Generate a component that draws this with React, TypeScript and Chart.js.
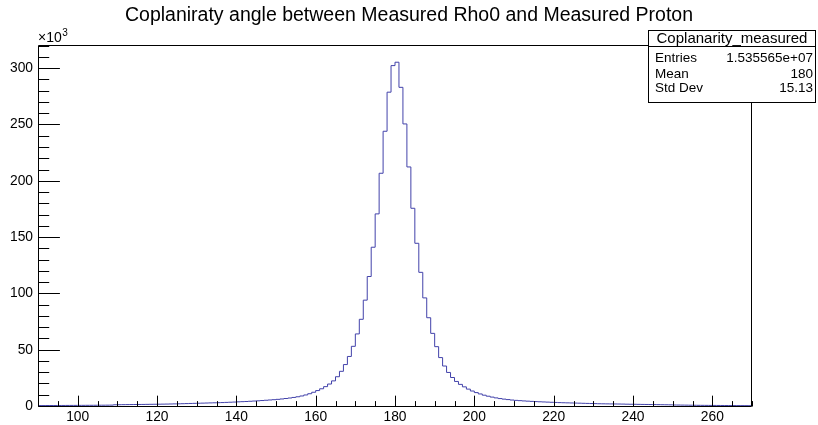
import React, { useEffect, useRef } from 'react';
import { Chart, registerables } from 'chart.js';

Chart.register(...registerables);

// ---- data (counts in units of 10^3, one bin per degree starting at 90) ----
const binStart = 90;
const binWidth = 1;
const counts: number[] = [
  0.40, 0.40, 0.42, 0.44, 0.45, 0.47, 0.48, 0.50, 0.52, 0.54,
  0.56, 0.58, 0.60, 0.62, 0.65, 0.68, 0.70, 0.74, 0.78, 1.10,
  1.15, 1.20, 1.24, 1.28, 1.32, 1.36, 1.40, 1.45, 1.50, 1.55,
  1.60, 1.66, 1.72, 1.80, 1.88, 1.96, 2.05, 2.15, 2.25, 2.35,
  2.45, 2.55, 2.65, 2.75, 2.85, 2.95, 3.05, 3.20, 3.35, 3.50,
  3.70, 3.85, 4.00, 4.20, 4.40, 4.60, 4.85, 5.10, 5.35, 5.60,
  5.90, 6.25, 6.65, 7.10, 7.60, 8.20, 8.90, 9.80, 10.90, 12.20,
  13.70, 15.30, 17.20, 19.50, 22.30, 26.00, 30.80, 36.80, 44.00, 53.00,
  64.0, 77.0, 94.0, 115.0, 141.0, 170.6, 206.7, 244.0, 278.7, 302.3,
  305.3, 283.0, 250.5, 212.3, 175.6, 144.5, 118.7, 96.0, 78.4, 64.5,
  52.7, 43.0, 35.5, 29.8, 25.3, 21.8, 19.2, 17.0, 15.0, 13.3,
  11.9, 10.7, 9.6, 8.7, 7.9, 7.2, 6.6, 6.1, 5.7, 5.3,
  5.0, 4.75, 4.5, 4.3, 4.1, 3.9, 3.75, 3.6, 3.45, 3.3,
  3.15, 3.0, 2.9, 2.8, 2.7, 2.6, 2.5, 2.4, 2.3, 2.2,
  2.1, 2.0, 1.95, 1.9, 1.85, 1.8, 1.75, 1.7, 1.6, 1.55,
  1.5, 1.45, 1.4, 1.35, 1.3, 1.25, 1.2, 1.15, 1.1, 1.05,
  0.9, 0.85, 0.8, 0.75, 0.7, 0.65, 0.6, 0.58, 0.55, 0.52,
  0.5, 0.48, 0.45, 0.42, 0.4, 0.38, 0.36, 0.34, 0.32, 0.3,
];
const xMin = 90;
const xMax = 270;
const yMax = 320.6;
const xMajorTicks = [100, 120, 140, 160, 180, 200, 220, 240, 260];
const yMajorTicks = [0, 50, 100, 150, 200, 250, 300];
const xMinorStep = 5;
const yMinorStep = 10;

const titleText = 'Coplaniraty angle between Measured Rho0 and Measured Proton';
const statsTitle = 'Coplanarity_measured';
const statsLabels = ['Entries', 'Mean', 'Std Dev'];
const statsValues = ['1.535565e+07', '180', '15.13'];

const FONT = '"Liberation Sans", Arial, Helvetica, sans-serif';
const LINE_COLOR = 'rgb(66,66,170)';

const rootDecor = {
  id: 'rootDecor',
  afterDraw(chart: any) {
    const { ctx, chartArea: a, scales } = chart;
    const xs = scales.x;
    const ys = scales.y;
    ctx.save();
    ctx.strokeStyle = '#000';
    ctx.lineWidth = 1;
    // frame
    const L = Math.round(a.left) + 0.5;
    const R = Math.round(a.right) - 0.5;
    const T = Math.round(a.top) + 0.5;
    const B = Math.round(a.bottom) + 0.5;
    ctx.beginPath();
    ctx.rect(L, T, R - L, B - T);
    ctx.stroke();

    // ticks (inside the frame)
    const frameH = a.bottom - a.top;
    const frameW = a.right - a.left;
    const xMaj = frameH * 0.03;
    const yMaj = frameW * 0.03;
    ctx.beginPath();
    for (let v = xMin; v <= xMax + 1e-9; v += xMinorStep) {
      const px = Math.round(xs.getPixelForValue(v)) + 0.5;
      const len = xMajorTicks.includes(v) ? xMaj : xMaj / 2;
      ctx.moveTo(px, B);
      ctx.lineTo(px, B - len);
    }
    for (let v = 0; v <= yMax + 1e-9; v += yMinorStep) {
      const py = Math.round(ys.getPixelForValue(v)) + 0.5;
      const len = yMajorTicks.includes(v) ? yMaj : yMaj / 2;
      ctx.moveTo(L, py);
      ctx.lineTo(L + len, py);
    }
    ctx.stroke();

    // title
    ctx.fillStyle = '#000';
    ctx.textAlign = 'center';
    ctx.textBaseline = 'middle';
    ctx.font = `19.5px ${FONT}`;
    ctx.fillText(titleText, chart.width / 2, 16);

    // x10^3
    ctx.textAlign = 'left';
    ctx.textBaseline = 'alphabetic';
    ctx.font = `14px ${FONT}`;
    ctx.fillText('\u00d710', a.left, 42);
    const w = ctx.measureText('\u00d710').width;
    ctx.font = `10px ${FONT}`;
    ctx.fillText('3', a.left + w + 0.5, 36);

    // stats box
    const bx = 648.5, by = 30.5, bw = 167, bh = 72;
    ctx.fillStyle = '#fff';
    ctx.fillRect(bx, by, bw, bh);
    ctx.strokeStyle = '#000';
    ctx.strokeRect(bx, by, bw, bh);
    ctx.beginPath();
    ctx.moveTo(bx, 46.5);
    ctx.lineTo(bx + bw, 46.5);
    ctx.stroke();
    ctx.fillStyle = '#000';
    ctx.textAlign = 'center';
    ctx.textBaseline = 'middle';
    ctx.font = `15px ${FONT}`;
    ctx.fillText(statsTitle, bx + bw / 2, 38.5);
    ctx.font = `13.5px ${FONT}`;
    const rowY = [58.5, 74, 88];
    statsLabels.forEach((lab, i) => {
      ctx.textAlign = 'left';
      ctx.fillText(lab, 655, rowY[i]);
      ctx.textAlign = 'right';
      ctx.fillText(statsValues[i], 813, rowY[i]);
    });
    ctx.restore();
  },
};

export default function App() {
  const ref = useRef<HTMLCanvasElement | null>(null);
  useEffect(() => {
    if (!ref.current) return;
    const points = counts.map((c, i) => ({ x: binStart + i * binWidth, y: c }));
    points.push({ x: binStart + counts.length * binWidth, y: counts[counts.length - 1] });
    const chart = new Chart(ref.current, {
      type: 'line',
      data: {
        datasets: [
          {
            data: points,
            stepped: true,
            borderColor: LINE_COLOR,
            borderWidth: 1,
            pointRadius: 0,
            fill: false,
          },
        ],
      },
      options: {
        animation: false,
        responsive: false,
        devicePixelRatio: 1,
        layout: { padding: { top: 45, right: 66, left: 0, bottom: 0 } },
        plugins: { legend: { display: false }, tooltip: { enabled: false }, title: { display: false } },
        scales: {
          x: {
            type: 'linear',
            min: xMin,
            max: xMax,
            grid: { display: false, drawTicks: false },
            border: { display: false },
            afterBuildTicks: (s: any) => {
              s.ticks = xMajorTicks.map((v) => ({ value: v }));
            },
            afterFit: (s: any) => {
              s.height = 19;
            },
            ticks: {
              autoSkip: false,
              maxRotation: 0,
              padding: 3,
              color: '#000',
              font: { family: FONT, size: 13.8 },
              callback: (v: any) => String(v),
            },
          },
          y: {
            type: 'linear',
            min: 0,
            max: yMax,
            grid: { display: false, drawTicks: false },
            border: { display: false },
            afterBuildTicks: (s: any) => {
              s.ticks = yMajorTicks.map((v) => ({ value: v }));
            },
            afterFit: (s: any) => {
              s.width = 38;
            },
            ticks: {
              autoSkip: false,
              padding: 5,
              color: '#000',
              font: { family: FONT, size: 13.8 },
              callback: (v: any) => String(v),
            },
          },
        },
      },
      plugins: [rootDecor],
    });
    return () => chart.destroy();
  }, []);
  return (
    <div style={{ position: 'absolute', left: 0, top: 0, width: 818, height: 425, background: '#fff' }}>
      <canvas ref={ref} width={818} height={425} style={{ display: 'block' }} />
    </div>
  );
}
